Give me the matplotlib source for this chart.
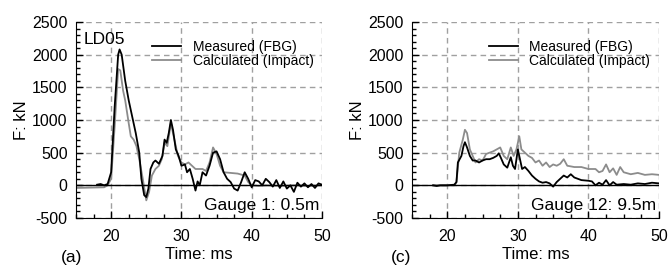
import matplotlib
matplotlib.use("Agg")
import matplotlib.pyplot as plt
from matplotlib.ticker import MultipleLocator

plt.rcParams['font.family'] = ['Liberation Sans', 'DejaVu Sans']
plt.rcParams['axes.unicode_minus'] = False

# gauge 1 (0.5 m) - measured by FBG
t_g1_meas = [18, 18.5, 19, 19.5, 20, 20.5, 21, 21.2, 21.5, 22, 22.5, 23, 23.5, 24, 24.3, 24.7,
             25, 25.3, 25.6, 26, 26.3, 26.8, 27.3, 27.6, 27.9, 28.2, 28.5, 28.8, 29.2, 29.6,
             30, 30.5, 30.8, 31.2, 31.6, 32, 32.3, 32.6, 33, 33.5, 34, 34.5, 35, 35.5, 36,
             36.5, 37, 37.5, 38, 38.5, 39, 39.5, 40, 40.5, 41, 41.5, 42, 42.5, 43, 43.5, 44,
             44.5, 45, 45.5, 46, 46.5, 47, 47.5, 48, 48.5, 49, 49.5, 50]
f_g1_meas = [10, 20, 0, 20, 200, 1200, 2000, 2080, 2000, 1600, 1300, 1050, 800, 500, 100, -150,
             -180, -50, 250, 350, 380, 330, 450, 700, 650, 800, 1000, 850, 550, 450,
             300, 320, 200, 250, 100, -80, 60, 0, 200, 150, 300, 500, 520, 400, 200,
             100, 50, -50, -80, 50, 200, 100, -30, 80, 60, 0, 100, 50, -20, 80, -40,
             60, -50, 0, -100, 40, -20, 30, -30, 20, -40, 30, 10]

# gauge 1 - calculated (impact)
t_g1_calc = [15, 19, 19.5, 20, 20.5, 21, 21.3, 21.7, 22, 22.5, 22.8, 23.2, 23.6, 24, 24.5,
             25, 25.4, 25.8, 26.3, 26.8, 27.2, 27.6, 28, 28.5, 29, 29.5, 30, 30.5, 31, 31.5,
             32, 32.5, 33, 33.5, 34, 34.5, 35, 35.5, 36, 37, 38, 39, 39.5, 40, 41, 42, 44,
             46, 48, 50]
f_g1_calc = [-40, -30, 0, 100, 900, 1780, 1760, 1450, 1300, 950, 750, 700, 600, 400, 100,
             -230, -100, 150, 250, 300, 400, 650, 600, 950, 700, 450, 350, 320, 350, 300,
             250, 250, 250, 220, 350, 580, 480, 300, 200, 190, 180, 150, 50, 0, -10, 0, -10,
             0, -10, 0]

# gauge 12 (9.5 m) - measured by FBG
t_g12_meas = [18, 18.5, 19, 20, 21, 21.3, 21.5, 22, 22.3, 22.5, 22.8, 23.2, 23.6, 24, 24.5,
              25, 25.5, 26, 26.5, 27, 27.3, 27.6, 28, 28.5, 29, 29.3, 29.6, 30, 30.3, 30.6,
              31, 31.5, 32, 32.5, 33, 33.5, 34, 34.5, 35, 35.5, 36, 36.5, 37, 37.5, 38, 39,
              40, 40.5, 41, 41.5, 42, 42.5, 43, 43.5, 44, 45, 46, 47, 48, 49, 50]
f_g12_meas = [0, -10, 0, 0, 10, 50, 350, 450, 600, 660, 580, 450, 380, 380, 350,
              380, 400, 400, 420, 450, 490, 420, 320, 270, 430, 300, 250, 550, 400, 250,
              280, 220, 150, 100, 60, 40, 50, 30, -20, 50, 100, 150, 120, 170, 120, 80,
              70, 60, 0, 40, 10, 80, 0, 50, 10, 20, 10, 30, 20, 40, 30]

# gauge 12 - calculated (impact)
t_g12_calc = [18, 21, 21.3, 21.7, 22.2, 22.5, 22.8, 23.2, 23.6, 24, 24.5, 25, 25.5, 26, 26.5,
              27, 27.5, 28, 28.5, 29, 29.4, 29.8, 30.2, 30.5, 31, 31.5, 32, 32.5, 33, 33.5,
              34, 34.5, 35, 35.5, 36, 36.5, 37, 38, 39, 40, 41, 41.5, 42, 42.5, 43, 43.5,
              44, 44.5, 45, 46, 47, 48, 49, 50]
f_g12_calc = [0, 0, 50, 500, 700, 850, 800, 550, 450, 350, 400, 380, 480, 500, 520,
              550, 580, 450, 400, 580, 450, 550, 750, 550, 500, 450, 420, 350, 380, 300,
              350, 280, 320, 300, 330, 400, 300, 280, 280, 250, 250, 200, 220, 320, 200, 260,
              160, 280, 200, 170, 190, 160, 170, 160]

fig = plt.figure(figsize=(6.69, 2.73), dpi=100)
ax1 = fig.add_axes([76/669, 1-218/273, 246/669, 196/273])
ax2 = fig.add_axes([412/669, 1-218/273, 247/669, 196/273])

grey = '#8c8c8c'

def setup(ax, meas, calc, gauge, letter, letter_x, show_ld=False):
    ax.plot(meas[0], meas[1], color='black', lw=1.3, label='Measured (FBG)', zorder=3)
    ax.plot(calc[0], calc[1], color=grey, lw=1.3, label='Calculated (Impact)', zorder=2)
    ax.axhline(0, color='black', lw=1.0, zorder=4)
    ax.set_xlim(15, 50)
    ax.set_ylim(-500, 2500)
    ax.set_xticks([20, 30, 40, 50])
    ax.set_yticks(range(-500, 2501, 500))
    ax.xaxis.set_minor_locator(MultipleLocator(2.5))
    ax.yaxis.set_minor_locator(MultipleLocator(100))
    ax.tick_params(which='both', direction='in', labelsize=11.5, top=False, right=False)
    ax.tick_params(which='major', length=5, width=1, pad=6)
    ax.tick_params(axis='x', which='major', pad=8)
    ax.tick_params(which='minor', length=3, width=1)
    ax.grid(True, which='major', color='#a0a0a0', ls=(0, (4, 3)), lw=1.0)
    ax.spines['top'].set_visible(False)
    ax.spines['right'].set_visible(False)
    ax.set_ylabel('F: kN', fontsize=12, labelpad=2)
    ax.set_xlabel('Time: ms', fontsize=12, labelpad=2)
    ax.text(0.99, 0.025, gauge, transform=ax.transAxes, ha='right', va='bottom', fontsize=12.5)
    ax.text(letter_x, -0.2, letter, transform=ax.transAxes, ha='center', va='center', fontsize=12.5)
    if show_ld:
        ax.text(0.03, 0.95, 'LD05', transform=ax.transAxes, ha='left', va='top', fontsize=12.5)
    ax.legend(loc='upper right', bbox_to_anchor=(0.965, 0.91), frameon=False, fontsize=10,
              handlelength=2.1, handletextpad=0.8, labelspacing=0.05, borderpad=0,
              borderaxespad=0)

setup(ax1, (t_g1_meas, f_g1_meas), (t_g1_calc, f_g1_calc), 'Gauge 1: 0.5m', '(a)', -0.02,
      show_ld=True)
setup(ax2, (t_g12_meas, f_g12_meas), (t_g12_calc, f_g12_calc), 'Gauge 12: 9.5m', '(c)', -0.045)

fig.savefig('out.png', dpi=100)
